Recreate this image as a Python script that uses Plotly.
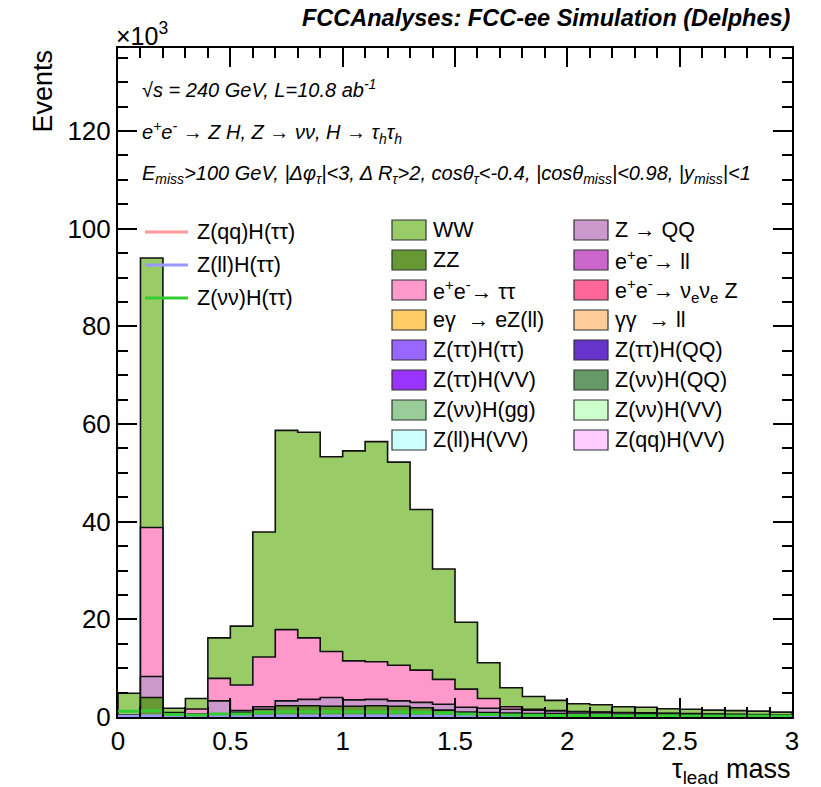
import numpy as np
import plotly.graph_objects as go

# ---------------- data (values in units of 10^3 events) ----------------
bin_edges = [round(0.1 * i, 1) for i in range(31)]

ZZ = [0.2, 4.0, 0.3, 0.3, 0.6, 0.9, 1.6, 2.3, 2.3, 2.2, 2.2, 2.3, 2.2, 1.9, 1.4,
      1.0, 0.9, 0.8, 0.7, 0.7, 0.6, 0.55, 0.5, 0.45, 0.4, 0.4, 0.35, 0.3, 0.3, 0.25]
Z_QQ = [0.1, 4.3, 0.3, 0.3, 2.7, 0.4, 0.5, 1.0, 1.3, 1.8, 1.3, 1.3, 1.1, 1.1, 1.2,
        1.0, 0.9, 0.8, 0.7, 0.55, 0.45, 0.4, 0.35, 0.35, 0.3, 0.25, 0.2, 0.2, 0.15, 0.15]
ee_tautau = [0.1, 30.5, 0.3, 1.04, 4.6, 5.25, 10.2, 14.6, 12.6, 9.4, 8.0, 7.7, 7.3, 6.6, 5.1,
             3.7, 2.0, 0.5, 0.2, 0.05, 0.05, 0.05, 0.05, 0.05, 0.05, 0.05, 0.05, 0.05, 0.05, 0.05]
WW = [4.45, 55.2, 0.9, 2.16, 8.3, 12.05, 25.6, 40.8, 42.1, 39.9, 43.0, 45.1, 41.6, 32.9, 22.6,
      13.7, 7.3, 3.9, 2.6, 2.1, 1.6, 1.5, 1.2, 1.15, 0.95, 0.9, 0.8, 0.75, 0.7, 0.55]

sig_vvtt = [1.2, 1.3, 0.5, 0.4, 0.6, 0.6, 0.9, 1.1, 1.1, 1.1, 1.1, 1.0, 1.0, 0.9, 0.8,
            0.6, 0.5, 0.4, 0.35, 0.3, 0.3, 0.3, 0.25, 0.25, 0.25, 0.2, 0.2, 0.2, 0.2, 0.2]
sig_lltt = [0.15, 0.2, 0.05, 0.05, 0.1, 0.1, 0.15, 0.2, 0.2, 0.2, 0.2, 0.2, 0.2, 0.15, 0.15,
            0.1, 0.1, 0.1, 0.05, 0.05, 0.05, 0.05, 0.05, 0.05, 0.05, 0.05, 0.05, 0.05, 0.05, 0.05]
sig_qqtt = [0.02, 0.03, 0.01, 0.01, 0.02, 0.02, 0.03, 0.03, 0.03, 0.03, 0.03, 0.03, 0.03, 0.02, 0.02,
            0.02, 0.01, 0.01, 0.01, 0.01, 0.01, 0.01, 0.01, 0.01, 0.01, 0.01, 0.01, 0.01, 0.01, 0.01]

stack_names = ["ZZ", "Z → QQ", "e+e-→ ττ", "WW"]
stack_values = [ZZ, Z_QQ, ee_tautau, WW]
stack_colors = ["#669933", "#cc99cc", "#ff99cc", "#99cc66"]

legend_col1 = ["WW", "ZZ", "e<sup>+</sup>e<sup>-</sup>→ ττ", "eγ  → eZ(ll)", "Z(ττ)H(ττ)",
               "Z(ττ)H(VV)", "Z(νν)H(gg)", "Z(ll)H(VV)"]
legend_col1_colors = ["#99cc66", "#669933", "#ff99cc", "#ffcc66", "#9966ff",
                      "#9933ff", "#99cc99", "#ccffff"]
legend_col2 = ["Z → QQ", "e<sup>+</sup>e<sup>-</sup>→ ll", "e<sup>+</sup>e<sup>-</sup>→ ν<sub>e</sub>ν<sub>e</sub> Z",
               "γγ  → ll", "Z(ττ)H(QQ)", "Z(νν)H(QQ)", "Z(νν)H(VV)", "Z(qq)H(VV)"]
legend_col2_colors = ["#cc99cc", "#cc66cc", "#ff6699", "#ffcc99", "#6633cc",
                      "#669966", "#ccffcc", "#ffccff"]

sig_names = ["Z(qq)H(ττ)", "Z(ll)H(ττ)", "Z(νν)H(ττ)"]
sig_values = [sig_qqtt, sig_lltt, sig_vvtt]
sig_colors = ["#ff9999", "#9999ff", "#33cc33"]

# ---------------- geometry (pixels) ----------------
W, H = 821, 787
L, R, T, B = 118, 792, 48, 717
FONT = "Liberation Sans, Arial, Helvetica, sans-serif"


def pxx(x):
    return (x - L) / (R - L)


def pxy(y):
    return (B - y) / (B - T)


def step_xy(vals):
    xs = [bin_edges[0]] + list(bin_edges)
    ys = [0] + list(vals) + [0]
    return xs, ys


fig = go.Figure()

cum = np.cumsum(np.array(stack_values, dtype=float), axis=0)
for i in range(len(stack_values) - 1, -1, -1):
    xs, ys = step_xy(cum[i])
    fig.add_trace(go.Scatter(
        x=xs, y=ys, mode="lines", line=dict(shape="hv", color="#111111", width=1.6),
        fill="tozeroy", fillcolor=stack_colors[i], name=stack_names[i],
        showlegend=False, hoverinfo="skip"))

for name, vals, col in zip(sig_names, sig_values, sig_colors):
    xs = list(bin_edges)
    ys = list(vals) + [vals[-1]]
    fig.add_trace(go.Scatter(
        x=xs, y=ys, mode="lines", line=dict(shape="hv", color=col, width=3),
        name=name, showlegend=False, hoverinfo="skip"))

shapes = []
annotations = []

LEG_SIZE = 21.5

# legend boxes
box_w, box_h = 34, 20
row0, row_step = 230, 30
for col_x, names, cols in [(392, legend_col1, legend_col1_colors),
                           (574, legend_col2, legend_col2_colors)]:
    for k, (nm, c) in enumerate(zip(names, cols)):
        yc = row0 + k * row_step
        shapes.append(dict(type="rect", xref="paper", yref="paper",
                           x0=pxx(col_x), x1=pxx(col_x + box_w),
                           y0=pxy(yc + box_h / 2), y1=pxy(yc - box_h / 2),
                           fillcolor=c, line=dict(color="#333333", width=1.2), layer="above"))
        annotations.append(dict(text=nm, xref="paper", yref="paper",
                                x=pxx(col_x + box_w + 5), y=pxy(yc), xanchor="left",
                                yanchor="middle", showarrow=False,
                                font=dict(family=FONT, size=LEG_SIZE, color="black")))

# signal line legend
for k, (nm, c) in enumerate(zip(sig_names, sig_colors)):
    yc = 232 + k * 33
    shapes.append(dict(type="line", xref="paper", yref="paper",
                       x0=pxx(145), x1=pxx(188), y0=pxy(yc), y1=pxy(yc),
                       line=dict(color=c, width=3), layer="above"))
    annotations.append(dict(text=nm, xref="paper", yref="paper",
                            x=pxx(195), y=pxy(yc), xanchor="left", yanchor="middle",
                            showarrow=False, font=dict(family=FONT, size=LEG_SIZE, color="black")))

# texts
annotations += [
    dict(text="<b><i>FCCAnalyses: FCC-ee Simulation (Delphes)</i></b>", xref="paper", yref="paper",
         x=pxx(793), y=pxy(18), xanchor="right", yanchor="middle", showarrow=False,
         font=dict(family=FONT, size=23.5, color="black")),
    dict(text="×10<sup>3</sup>", xref="paper", yref="paper",
         x=pxx(114), y=pxy(34), xanchor="left", yanchor="middle", showarrow=False,
         font=dict(family=FONT, size=25, color="black")),
    dict(text="Events", xref="paper", yref="paper", textangle=-90,
         x=pxx(42), y=pxy(48), xanchor="center", yanchor="top", showarrow=False,
         font=dict(family=FONT, size=27, color="black")),
    dict(text="τ<sub>lead</sub> mass", xref="paper", yref="paper",
         x=pxx(792), y=pxy(771), xanchor="right", yanchor="middle", showarrow=False,
         font=dict(family=FONT, size=27, color="black")),
    dict(text="<i>√s = 240 GeV, L=10.8 ab<sup>-1</sup></i>", xref="paper", yref="paper",
         x=pxx(140), y=pxy(88), xanchor="left", yanchor="middle", showarrow=False,
         font=dict(family=FONT, size=20, color="black")),
    dict(text="<i>e<sup>+</sup>e<sup>-</sup> → Z H, Z → νν, H → τ<sub>h</sub>τ<sub>h</sub></i>",
         xref="paper", yref="paper",
         x=pxx(140), y=pxy(132), xanchor="left", yanchor="middle", showarrow=False,
         font=dict(family=FONT, size=20, color="black")),
    dict(text="<i>E<sub>miss</sub>&gt;100 GeV, |Δφ<sub>τ</sub>|&lt;3, Δ R<sub>τ</sub>&gt;2, "
              "cosθ<sub>τ</sub>&lt;-0.4, |cosθ<sub>miss</sub>|&lt;0.98, |y<sub>miss</sub>|&lt;1</i>",
         xref="paper", yref="paper",
         x=pxx(140), y=pxy(175), xanchor="left", yanchor="middle", showarrow=False,
         font=dict(family=FONT, size=20, color="black")),
]

axis_common = dict(showgrid=False, zeroline=False, showline=True, linecolor="black", linewidth=2,
                   mirror="allticks", ticks="inside", tickcolor="black", tickwidth=1.5,
                   ticklen=19, tickfont=dict(family=FONT, size=26, color="black"))

fig.update_layout(
    width=W, height=H,
    margin=dict(l=L, r=W - R, t=T, b=H - B),
    paper_bgcolor="white", plot_bgcolor="white",
    showlegend=False,
    shapes=shapes, annotations=annotations,
    xaxis=dict(range=[0, 3], dtick=0.5, tick0=0,
               minor=dict(dtick=0.1, ticks="inside", ticklen=10, tickcolor="black", tickwidth=1.5),
               **axis_common),
    yaxis=dict(range=[0, 137], dtick=20, tick0=0,
               minor=dict(dtick=5, ticks="inside", ticklen=10, tickcolor="black", tickwidth=1.5),
               **axis_common),
)

fig.write_html("out.html")
